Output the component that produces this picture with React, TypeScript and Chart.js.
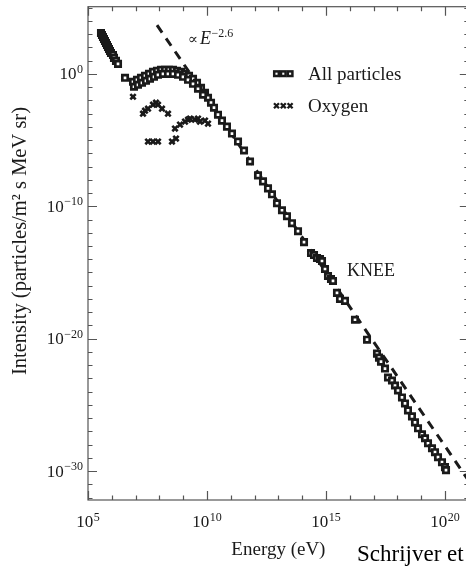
import React, { useEffect, useRef } from 'react';
import { Chart, registerables } from 'chart.js';

Chart.register(...registerables);

// ---- data (log10 values) ----
// All particles: log10(E / eV)
const allLogE = [
  5.546, 5.588, 5.63, 5.672, 5.714, 5.756, 5.798, 5.84, 5.882, 5.924, 5.966, 6.05, 6.092, 6.176, 6.261, 6.555,
  6.891, 7.059, 7.227, 7.395, 7.563, 7.731, 7.899, 8.067, 8.235, 8.403, 8.571, 8.739, 8.908, 9.076, 9.244, 9.412,
  9.58, 9.748, 9.916, 10.042, 10.168, 10.294, 10.462, 10.63, 10.84, 11.05, 11.303, 11.555,
  6.933, 7.101, 7.269, 7.437, 7.605, 7.773, 7.941, 8.151, 8.361, 8.571, 8.782, 8.992, 9.202, 9.412, 9.622, 9.832,
  11.807, 12.143, 12.353, 12.563, 12.731, 12.941, 13.151, 13.361, 13.571, 13.824, 14.076, 14.37, 14.496, 14.622,
  14.748, 14.832, 14.958, 15.084, 15.21, 15.294, 15.462, 15.588, 15.798, 16.218, 16.723, 17.143, 17.227, 17.311,
  17.479, 17.605, 17.773, 17.899, 18.025, 18.193, 18.319, 18.445, 18.613, 18.739, 18.866, 19.034, 19.16, 19.286,
  19.454, 19.58, 19.706, 19.874, 20.0, 20.042,
];
// All particles: log10(intensity)
const allLogI = [
  3.083, 2.932, 2.782, 2.632, 2.481, 2.331, 2.18, 2.03, 1.88, 1.729, 1.579, 1.429, 1.203, 0.977, 0.752, -0.301,
  -0.602, -0.451, -0.301, -0.15, 0.0, 0.15, 0.226, 0.301, 0.301, 0.301, 0.301, 0.226, 0.15, 0.0, -0.15, -0.376,
  -0.677, -1.053, -1.429, -1.805, -2.18, -2.556, -3.083, -3.534, -3.985, -4.511, -5.113, -5.789,
  -0.977, -0.827, -0.677, -0.526, -0.376, -0.226, -0.075, 0.0, 0.0, 0.0, -0.075, -0.226, -0.451, -0.752, -1.128, -1.579,
  -6.617, -7.669, -8.12, -8.647, -9.098, -9.774, -10.301, -10.752, -11.278, -11.88, -12.707, -13.534, -13.684, -13.91,
  -13.985, -14.135, -14.737, -15.263, -15.489, -15.639, -16.541, -16.992, -17.143, -18.571, -20.075, -21.128, -21.429, -21.729,
  -22.256, -22.932, -23.158, -23.534, -23.91, -24.436, -24.887, -25.414, -25.865, -26.316, -26.767, -27.218, -27.519, -27.895,
  -28.271, -28.571, -28.947, -29.323, -29.699, -29.925,
];
// Oxygen
const oxyLogE = [
  6.891, 7.311, 7.395, 7.521, 7.731, 7.857, 7.941, 8.109, 8.361,
  7.521, 7.731, 7.941, 8.529, 8.697,
  8.655, 8.866, 9.076, 9.202, 9.286, 9.496, 9.622, 9.706, 9.916, 10.042,
];
const oxyLogI = [
  -1.729, -3.008, -2.782, -2.632, -2.331, -2.18, -2.331, -2.632, -3.008,
  -5.113, -5.113, -5.113, -5.113, -4.887,
  -4.135, -3.835, -3.609, -3.459, -3.383, -3.459, -3.383, -3.609, -3.534, -3.759,
];
// power-law guide line (two end points)
const fitLogE = [7.9, 21.0];
const fitLogI = [3.68, -30.74];

// tick labels (exponents of 10)
const xTickExps = [5, 10, 15, 20];
const yTickExps = [0, -10, -20, -30];
const xRangeExp = [5, 21];
const yRangeExp = [-32.18, 5.07];

const legendLabels = ['All particles', 'Oxygen'];
const xTitle = 'Energy (eV)';
const yTitle = 'Intensity (particles/m\u00B2 s MeV sr)';
const slopeLabel = '\u22122.6';
const kneeLabel = 'KNEE';
const creditLabel = 'Schrijver et al.';

const SERIF = "'Liberation Serif', 'DejaVu Serif', 'Times New Roman', serif";
const INK = '#1a1a1a';

const toPts = (le: number[], li: number[]) => le.map((e, i) => ({ x: Math.pow(10, e), y: Math.pow(10, li[i]) }));

function supText(e: number) {
  return e < 0 ? '\u2212' + String(-e) : String(e);
}

function drawPow(ctx: CanvasRenderingContext2D, base: string, sup: string, x: number, baseline: number,
  align: 'center' | 'right', baseSize = 17, supSize = 12, rise = 6.5) {
  ctx.font = `${baseSize}px ${SERIF}`;
  const bw = ctx.measureText(base).width;
  ctx.font = `${supSize}px ${SERIF}`;
  const sw = ctx.measureText(sup).width;
  const total = bw + 0.5 + sw;
  const start = align === 'center' ? x - total / 2 : x - total;
  ctx.textAlign = 'left';
  ctx.textBaseline = 'alphabetic';
  ctx.font = `${baseSize}px ${SERIF}`;
  ctx.fillText(base, start, baseline);
  ctx.font = `${supSize}px ${SERIF}`;
  ctx.fillText(sup, start + bw + 0.5, baseline - rise);
}

const framePlugin = {
  id: 'frameAndText',
  afterDraw(chart: any) {
    const { ctx, chartArea: a, scales } = chart;
    const xs = scales.x;
    const ys = scales.y;
    ctx.save();
    // frame
    ctx.strokeStyle = '#555';
    ctx.lineWidth = 1.2;
    ctx.strokeRect(a.left, a.top, a.right - a.left, a.bottom - a.top);
    ctx.beginPath();
    for (let e = Math.ceil(xRangeExp[0]); e <= Math.floor(xRangeExp[1]); e++) {
      const px = Math.round(xs.getPixelForValue(Math.pow(10, e))) + 0.5;
      const len = e % 5 === 0 ? 9 : 4.5;
      ctx.moveTo(px, a.bottom); ctx.lineTo(px, a.bottom - len);
      ctx.moveTo(px, a.top); ctx.lineTo(px, a.top + len);
    }
    for (let e = Math.ceil(yRangeExp[0]); e <= Math.floor(yRangeExp[1]); e++) {
      const py = Math.round(ys.getPixelForValue(Math.pow(10, e))) + 0.5;
      const len = e % 10 === 0 ? 9 : 4.5;
      ctx.moveTo(a.left, py); ctx.lineTo(a.left + len, py);
      ctx.moveTo(a.right, py); ctx.lineTo(a.right - len, py);
    }
    ctx.stroke();

    // tick labels
    ctx.fillStyle = INK;
    xTickExps.forEach((e) => drawPow(ctx, '10', supText(e), xs.getPixelForValue(Math.pow(10, e)), a.bottom + 27, 'center'));
    yTickExps.forEach((e) => drawPow(ctx, '10', supText(e), a.left - 5, ys.getPixelForValue(Math.pow(10, e)) + 5.5, 'right'));

    // axis titles
    ctx.font = `19px ${SERIF}`;
    ctx.textAlign = 'center';
    ctx.textBaseline = 'alphabetic';
    ctx.fillText(xTitle, (a.left + a.right) / 2, a.bottom + 55);
    ctx.save();
    ctx.translate(25.5, 241);
    ctx.rotate(-Math.PI / 2);
    ctx.font = `20.5px ${SERIF}`;
    ctx.fillText(yTitle, 0, 0);
    ctx.restore();

    // credit
    ctx.fillStyle = '#000';
    ctx.font = `23px ${SERIF}`;
    ctx.textAlign = 'left';
    ctx.fillText(creditLabel, 357, 561);

    // slope annotation
    ctx.fillStyle = INK;
    const sx = xs.getPixelForValue(Math.pow(10, 9.2));
    const sy = ys.getPixelForValue(Math.pow(10, 2.26));
    ctx.font = `15px ${SERIF}`;
    ctx.fillText('\u221D', sx, sy);
    const pw = ctx.measureText('\u221D').width;
    ctx.font = `italic 18px ${SERIF}`;
    ctx.fillText('E', sx + pw + 2, sy);
    const ew = ctx.measureText('E').width;
    ctx.font = `12px ${SERIF}`;
    ctx.fillText(slopeLabel, sx + pw + 2 + ew + 0.5, sy - 7);

    // knee annotation
    ctx.font = `18px ${SERIF}`;
    ctx.fillText(kneeLabel, xs.getPixelForValue(Math.pow(10, 15.88)), ys.getPixelForValue(Math.pow(10, -15.26)));

    // legend
    const lx = a.left + 185;
    const rows = [a.top + 67, a.top + 99];
    ctx.strokeStyle = INK;
    ctx.lineWidth = 2.5;
    for (let k = 0; k < 3; k++) {
      const cx = lx + 3.5 + k * 6.8;
      ctx.strokeRect(cx - 2.3, rows[0] - 2.3, 4.6, 4.6);
    }
    ctx.lineWidth = 2.3;
    ctx.beginPath();
    for (let k = 0; k < 3; k++) {
      const cx = lx + 3.5 + k * 6.8;
      const cy = rows[1];
      ctx.moveTo(cx - 2.5, cy - 2.5); ctx.lineTo(cx + 2.5, cy + 2.5);
      ctx.moveTo(cx + 2.5, cy - 2.5); ctx.lineTo(cx - 2.5, cy + 2.5);
    }
    ctx.stroke();
    ctx.font = `19px ${SERIF}`;
    ctx.textBaseline = 'middle';
    ctx.fillStyle = INK;
    ctx.fillText(legendLabels[0], lx + 35, rows[0] + 1);
    ctx.fillText(legendLabels[1], lx + 35, rows[1] + 1);
    ctx.restore();
  },
};

export default function App() {
  const ref = useRef<HTMLCanvasElement | null>(null);
  useEffect(() => {
    if (!ref.current) return;
    const chart = new Chart(ref.current, {
      type: 'scatter',
      data: {
        datasets: [
          {
            label: legendLabels[1],
            data: toPts(oxyLogE, oxyLogI),
            pointStyle: 'crossRot',
            pointRadius: 3.8,
            borderWidth: 2.6,
            borderColor: INK,
            backgroundColor: INK,
          },
          {
            label: legendLabels[0],
            data: toPts(allLogE, allLogI),
            pointStyle: 'rect',
            pointRadius: 3.8,
            borderWidth: 2.7,
            borderColor: INK,
            backgroundColor: '#fff',
          },
          {
            label: 'fit',
            data: toPts(fitLogE, fitLogI),
            showLine: true,
            pointRadius: 0,
            borderColor: INK,
            borderWidth: 3,
            borderDash: [9, 7],
            fill: false,
          } as any,
        ],
      },
      options: {
        responsive: false,
        animation: false,
        devicePixelRatio: 1,
        layout: { padding: { left: 88, right: 480 - 468.8, top: 4.5, bottom: 66 } },
        plugins: { legend: { display: false }, tooltip: { enabled: false } },
        scales: {
          x: { type: 'logarithmic', display: false, min: Math.pow(10, xRangeExp[0]), max: Math.pow(10, xRangeExp[1]) },
          y: { type: 'logarithmic', display: false, min: Math.pow(10, yRangeExp[0]), max: Math.pow(10, yRangeExp[1]) },
        },
      },
      plugins: [framePlugin],
    });
    return () => chart.destroy();
  }, []);
  return (
    <div style={{ position: 'absolute', left: 0, top: 0, width: 466, height: 566, overflow: 'hidden', background: '#fff' }}>
      <canvas ref={ref} width={480} height={566} style={{ width: 480, height: 566, display: 'block' }} />
    </div>
  );
}
